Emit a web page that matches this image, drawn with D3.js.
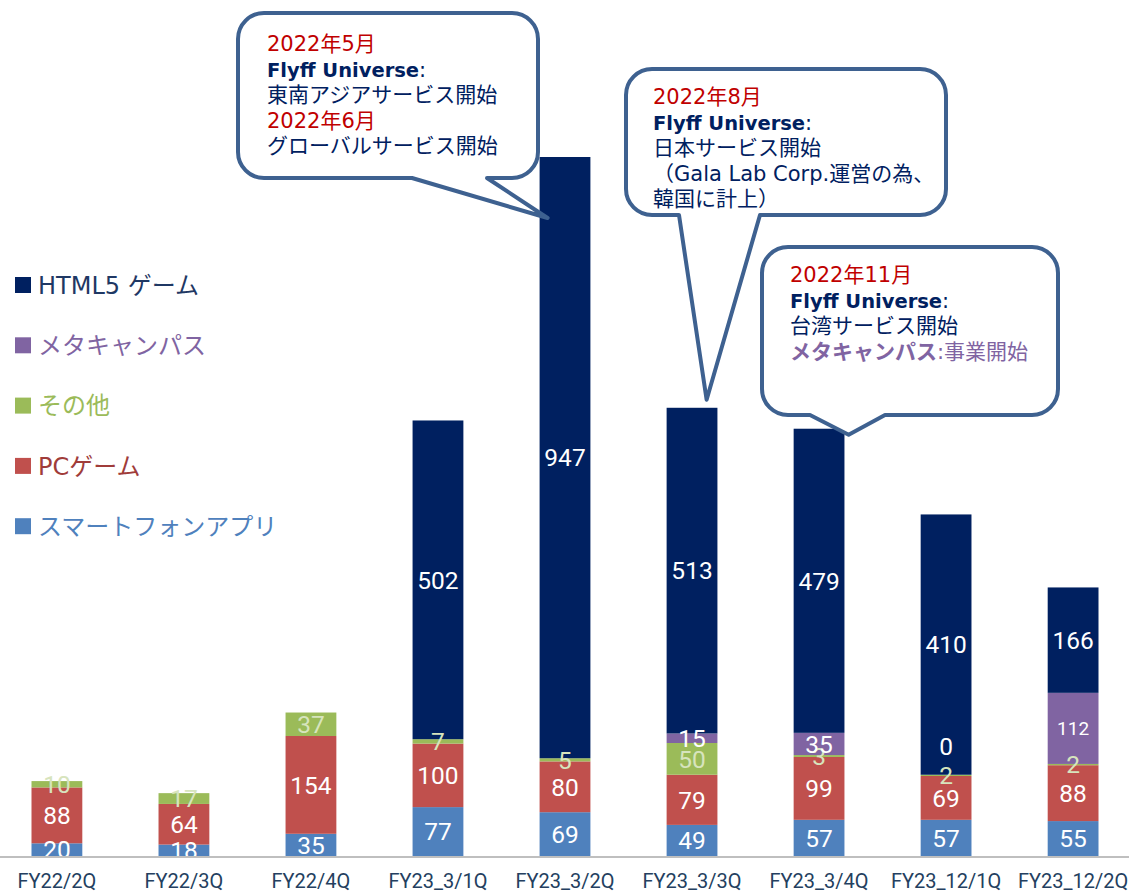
<!DOCTYPE html>
<html>
<head>
<meta charset="utf-8">
<script src="https://cdnjs.cloudflare.com/ajax/libs/d3/7.8.5/d3.min.js"></script>
<style>
  body { margin: 0; background: #fff; }
  svg { display: block; }
</style>
</head>
<body>
<svg width="1129" height="892"></svg>
<script>
// quarters and stacked values (bottom to top)
var quarters = ["FY22/2Q", "FY22/3Q", "FY22/4Q", "FY23_3/1Q", "FY23_3/2Q", "FY23_3/3Q", "FY23_3/4Q", "FY23_12/1Q", "FY23_12/2Q"];
var smartphone = [20, 18, 35, 77, 69, 49, 57, 57, 55];
var pcGame = [88, 64, 154, 100, 80, 79, 99, 69, 88];
var other = [10, 17, 37, 7, 5, 50, 3, 2, 2];
var metaCampus = [null, null, null, null, null, 15, 35, 0, 112];
var html5 = [null, null, null, 502, 947, 513, 479, 410, 166];

var seriesNames = ["スマートフォンアプリ", "PCゲーム", "その他", "メタキャンパス", "HTML5 ゲーム"];
var seriesColors = ["#4f81bd", "#c0504d", "#9bbb59", "#8064a2", "#002060"];
var legendTextColors = ["#4f81bd", "#a03c3a", "#9bbb59", "#8064a2", "#1f3864"];
var labelColors = ["#ffffff", "#ffffff", "#d7e4bd", "#ffffff", "#ffffff"];
var seriesData = [smartphone, pcGame, other, metaCampus, html5];

var svg = d3.select("svg");
var baseY = 856;

var x = d3.scaleBand()
  .domain(quarters)
  .range([31.5, 1098.5])
  .paddingInner(0.6)
  .paddingOuter(0);

var y = d3.scaleLinear()
  .domain([0, 1101])
  .range([baseY, 157]);

// build stacked segments
var segments = [];
quarters.forEach(function(q, i) {
  var acc = 0;
  seriesData.forEach(function(arr, s) {
    var v = arr[i];
    if (v === null) return;
    segments.push({q: q, s: s, v: v, y0: acc, y1: acc + v});
    acc += v;
  });
});

svg.append("clipPath").attr("id", "plot")
  .append("rect").attr("x", 0).attr("y", 0).attr("width", 1129).attr("height", baseY);

svg.selectAll("rect.seg")
  .data(segments)
  .enter()
  .append("rect")
  .attr("class", "seg")
  .attr("x", function(d) { return x(d.q); })
  .attr("width", x.bandwidth())
  .attr("y", function(d) { return y(d.y1); })
  .attr("height", function(d) { return y(d.y0) - y(d.y1); })
  .attr("fill", function(d) { return seriesColors[d.s]; });

svg.append("g").attr("clip-path", "url(#plot)")
  .selectAll("text")
  .data(segments)
  .enter()
  .append("text")
  .attr("x", function(d) { return x(d.q) + x.bandwidth() / 2; })
  .attr("y", function(d) {
    var c = (y(d.y0) + y(d.y1)) / 2;
    if (d.v === 0) c -= 29;
    return c;
  })
  .attr("dy", "0.36em")
  .attr("text-anchor", "middle")
  .attr("font-family", "Roboto")
  .attr("font-size", function(d) { return d.v > 100 && d.s === 3 ? 19 : 24.5; })
  .attr("fill", function(d) { return labelColors[d.s]; })
  .text(function(d) { return d.v; });

// axis line and labels
svg.append("line")
  .attr("x1", 0).attr("x2", 1129)
  .attr("y1", baseY + 1).attr("y2", baseY + 1)
  .attr("stroke", "#bfbfbf").attr("stroke-width", 2);

svg.selectAll("text.cat")
  .data(quarters)
  .enter()
  .append("text")
  .attr("class", "cat")
  .attr("x", function(d) { return x(d) + x.bandwidth() / 2; })
  .attr("y", 888)
  .attr("text-anchor", "middle")
  .attr("font-family", "Roboto")
  .attr("font-size", 20)
  .attr("fill", "#243f60")
  .text(function(d) { return d; });

// legend, top entry is HTML5
var legendOrder = [4, 3, 2, 1, 0];
var legend = svg.selectAll("g.legend")
  .data(legendOrder)
  .enter()
  .append("g")
  .attr("class", "legend")
  .attr("transform", function(d, i) { return "translate(15," + (285 + i * 60.3) + ")"; });

legend.append("rect")
  .attr("x", 0).attr("y", -8)
  .attr("width", 16).attr("height", 16)
  .attr("fill", function(d) { return seriesColors[d]; });

legend.append("text")
  .attr("x", 23)
  .attr("dy", "0.36em")
  .attr("font-family", "DejaVu Sans, Noto Sans CJK JP")
  .attr("font-size", 24)
  .attr("fill", function(d) { return legendTextColors[d]; })
  .text(function(d) { return seriesNames[d]; });

// callouts
var calloutFont = "DejaVu Sans, Noto Sans CJK JP";
var red = "#c00000", navy = "#002060", purple = "#8064a2";

function bubble(bx, by, w, h, r, t1, t2, tip) {
  var p = d3.path();
  p.moveTo(bx + r, by);
  p.lineTo(bx + w - r, by);
  p.arcTo(bx + w, by, bx + w, by + r, r);
  p.lineTo(bx + w, by + h - r);
  p.arcTo(bx + w, by + h, bx + w - r, by + h, r);
  p.lineTo(t2, by + h);
  p.lineTo(tip[0], tip[1]);
  p.lineTo(t1, by + h);
  p.lineTo(bx + r, by + h);
  p.arcTo(bx, by + h, bx, by + h - r, r);
  p.lineTo(bx, by + r);
  p.arcTo(bx, by, bx + r, by, r);
  p.closePath();
  svg.append("path")
    .attr("d", p.toString())
    .attr("fill", "#fff")
    .attr("stroke", "#3e6190")
    .attr("stroke-width", 4)
    .attr("stroke-linejoin", "round");
}

function lines(tx, ty, rows) {
  rows.forEach(function(row, i) {
    var t = svg.append("text")
      .attr("x", tx)
      .attr("y", ty + i * 25.5)
      .attr("font-family", calloutFont)
      .attr("font-size", 21);
    row.forEach(function(part) {
      t.append("tspan")
        .attr("fill", part.c)
        .attr("font-weight", part.b ? "bold" : "normal")
        .attr("font-size", part.fs || 21)
        .text(part.t);
    });
  });
}

var tot = function(i) { return d3.sum(seriesData, function(a) { return a[i] || 0; }); };

bubble(238, 13, 300, 165, 26, 412, 487, [x(quarters[4]) + 8, y(tot(4)) + 61]);
lines(267, 51, [
  [{t: "2022年5月", c: red}],
  [{t: "Flyff Universe", c: navy, b: true, fs: 19.5}, {t: ":", c: navy}],
  [{t: "東南アジアサービス開始", c: navy}],
  [{t: "2022年6月", c: red}],
  [{t: "グローバルサービス開始", c: navy}]
]);

bubble(626, 69, 320, 146, 26, 679, 760, [x(quarters[5]) + 40, y(tot(5)) - 8]);
lines(653, 104, [
  [{t: "2022年8月", c: red}],
  [{t: "Flyff Universe", c: navy, b: true, fs: 19.5}, {t: ":", c: navy}],
  [{t: "日本サービス開始", c: navy}],
  [{t: "（Gala Lab Corp.運営の為、", c: navy}],
  [{t: " 韓国に計上）", c: navy}]
]);

bubble(762, 247, 296, 168, 26, 810, 885, [x(quarters[6]) + 55, y(tot(6)) + 6]);
lines(790, 282, [
  [{t: "2022年11月", c: red}],
  [{t: "Flyff Universe", c: navy, b: true, fs: 19.5}, {t: ":", c: navy}],
  [{t: "台湾サービス開始", c: navy}],
  [{t: "メタキャンパス", c: purple, b: true}, {t: ":事業開始", c: purple}]
]);
</script>
</body>
</html>
